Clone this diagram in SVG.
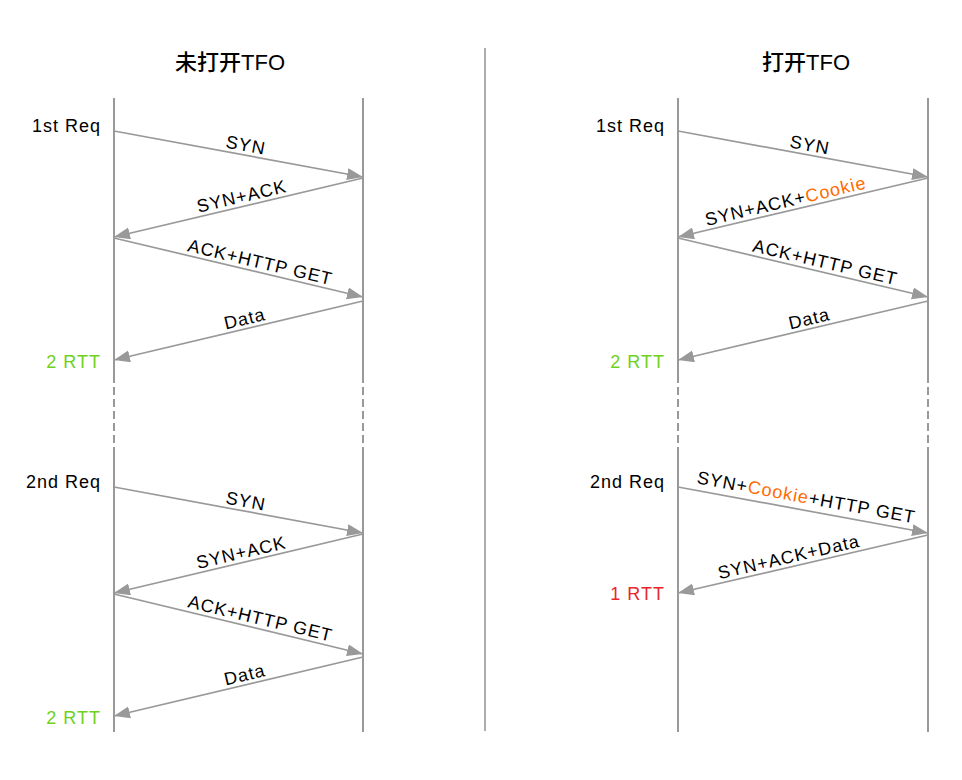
<svg xmlns="http://www.w3.org/2000/svg" width="962" height="780" viewBox="0 0 962 780">
<defs>
<marker id="ah" markerUnits="userSpaceOnUse" markerWidth="17" markerHeight="13" refX="16" refY="6" orient="auto">
<path d="M0,0 L16,6 L0,12 z" fill="#999"/>
</marker>
<style>
.life{stroke:#999;stroke-width:2;fill:none}
.dash{stroke:#999;stroke-width:2;fill:none;stroke-dasharray:8 4}
.msg{stroke:#999;stroke-width:1.7;fill:none;marker-end:url(#ah)}
.t{font-family:"Liberation Sans","Noto Sans CJK SC",sans-serif;font-size:18px;letter-spacing:1px;fill:#000}
.ttl{font-family:"Liberation Sans","Noto Sans CJK SC",sans-serif;font-size:22px;font-weight:500;fill:#000;text-anchor:middle}
.lb{text-anchor:middle}
.rt{text-anchor:end}
.g{fill:#6DD21B}
.r{fill:#E8262B}
.o{fill:#FF6A00}
</style>
</defs>
<rect width="962" height="780" fill="#fff"/>
<g id="divider"><line x1="485" y1="48" x2="485" y2="731" stroke="#999" stroke-width="1.6"/></g>
<g id="titles">
<text class="ttl" x="230" y="70">未打开TFO</text>
<text class="ttl" x="806" y="70">打开TFO</text>
</g>
<g id="lifelines">
<g id="left-client"><line class="life" x1="114" y1="98" x2="114" y2="383"/><line class="dash" x1="114" y1="387" x2="114" y2="447"/><line class="life" x1="114" y1="447" x2="114" y2="732"/></g>
<g id="left-server"><line class="life" x1="363" y1="98" x2="363" y2="383"/><line class="dash" x1="363" y1="387" x2="363" y2="447"/><line class="life" x1="363" y1="447" x2="363" y2="732"/></g>
<g id="right-client"><line class="life" x1="678" y1="98" x2="678" y2="383"/><line class="dash" x1="678" y1="387" x2="678" y2="447"/><line class="life" x1="678" y1="447" x2="678" y2="732"/></g>
<g id="right-server"><line class="life" x1="928" y1="98" x2="928" y2="383"/><line class="dash" x1="928" y1="387" x2="928" y2="447"/><line class="life" x1="928" y1="447" x2="928" y2="732"/></g>
</g>
<g id="side-labels">
<text class="t rt" x="101" y="132">1st Req</text>
<text class="t rt g" x="101" y="368">2 RTT</text>
<text class="t rt" x="101" y="488">2nd Req</text>
<text class="t rt g" x="101" y="724">2 RTT</text>
<text class="t rt" x="665" y="132">1st Req</text>
<text class="t rt g" x="665" y="368">2 RTT</text>
<text class="t rt" x="665" y="488">2nd Req</text>
<text class="t rt r" x="665" y="600">1 RTT</text>
</g>
<g id="connectors">
<line class="msg" x1="114" y1="131" x2="363" y2="177"/>
<line class="msg" x1="363" y1="178" x2="114" y2="237"/>
<line class="msg" x1="114" y1="238" x2="363" y2="297"/>
<line class="msg" x1="363" y1="301" x2="114" y2="360"/>
<line class="msg" x1="114" y1="487" x2="363" y2="533"/>
<line class="msg" x1="363" y1="534" x2="114" y2="593"/>
<line class="msg" x1="114" y1="594" x2="363" y2="654"/>
<line class="msg" x1="363" y1="657" x2="114" y2="716"/>
<line class="msg" x1="678" y1="131" x2="928" y2="177"/>
<line class="msg" x1="928" y1="178" x2="678" y2="237"/>
<line class="msg" x1="678" y1="238" x2="928" y2="297"/>
<line class="msg" x1="928" y1="301" x2="678" y2="360"/>
<line class="msg" x1="678" y1="487" x2="928" y2="533"/>
<line class="msg" x1="928" y1="535" x2="678" y2="593"/>
</g>
<g id="connector-labels">
<text class="t lb" transform="translate(244,155) rotate(10.47)" y="-4">SYN</text>
<text class="t lb" transform="translate(244,206.2) rotate(-13.33)" y="-4">SYN+ACK</text>
<text class="t lb" transform="translate(258,272.1) rotate(13.33)" y="-4">ACK+HTTP GET</text>
<text class="t lb" transform="translate(247,328.5) rotate(-13.33)" y="-4">Data</text>
<text class="t lb" transform="translate(244,511) rotate(10.47)" y="-4">SYN</text>
<text class="t lb" transform="translate(243.5,562.4) rotate(-13.33)" y="-4">SYN+ACK</text>
<text class="t lb" transform="translate(258,628.3) rotate(13.5)" y="-4">ACK+HTTP GET</text>
<text class="t lb" transform="translate(247,684.5) rotate(-13.33)" y="-4">Data</text>
<text class="t lb" transform="translate(808,154.9) rotate(10.43)" y="-4">SYN</text>
<text class="t lb" transform="translate(788,211) rotate(-13.28)" y="-4">SYN+ACK+<tspan class="o">Cookie</tspan></text>
<text class="t lb" transform="translate(823,272.2) rotate(13.28)" y="-4">ACK+HTTP GET</text>
<text class="t lb" transform="translate(811.5,328.5) rotate(-13.28)" y="-4">Data</text>
<text class="t lb" transform="translate(804,510.2) rotate(10.43)" y="-7">SYN+<tspan class="o">Cookie</tspan>+HTTP GET</text>
<text class="t lb" transform="translate(791,566.8) rotate(-13.06)" y="-4">SYN+ACK+Data</text>
</g>
</svg>
